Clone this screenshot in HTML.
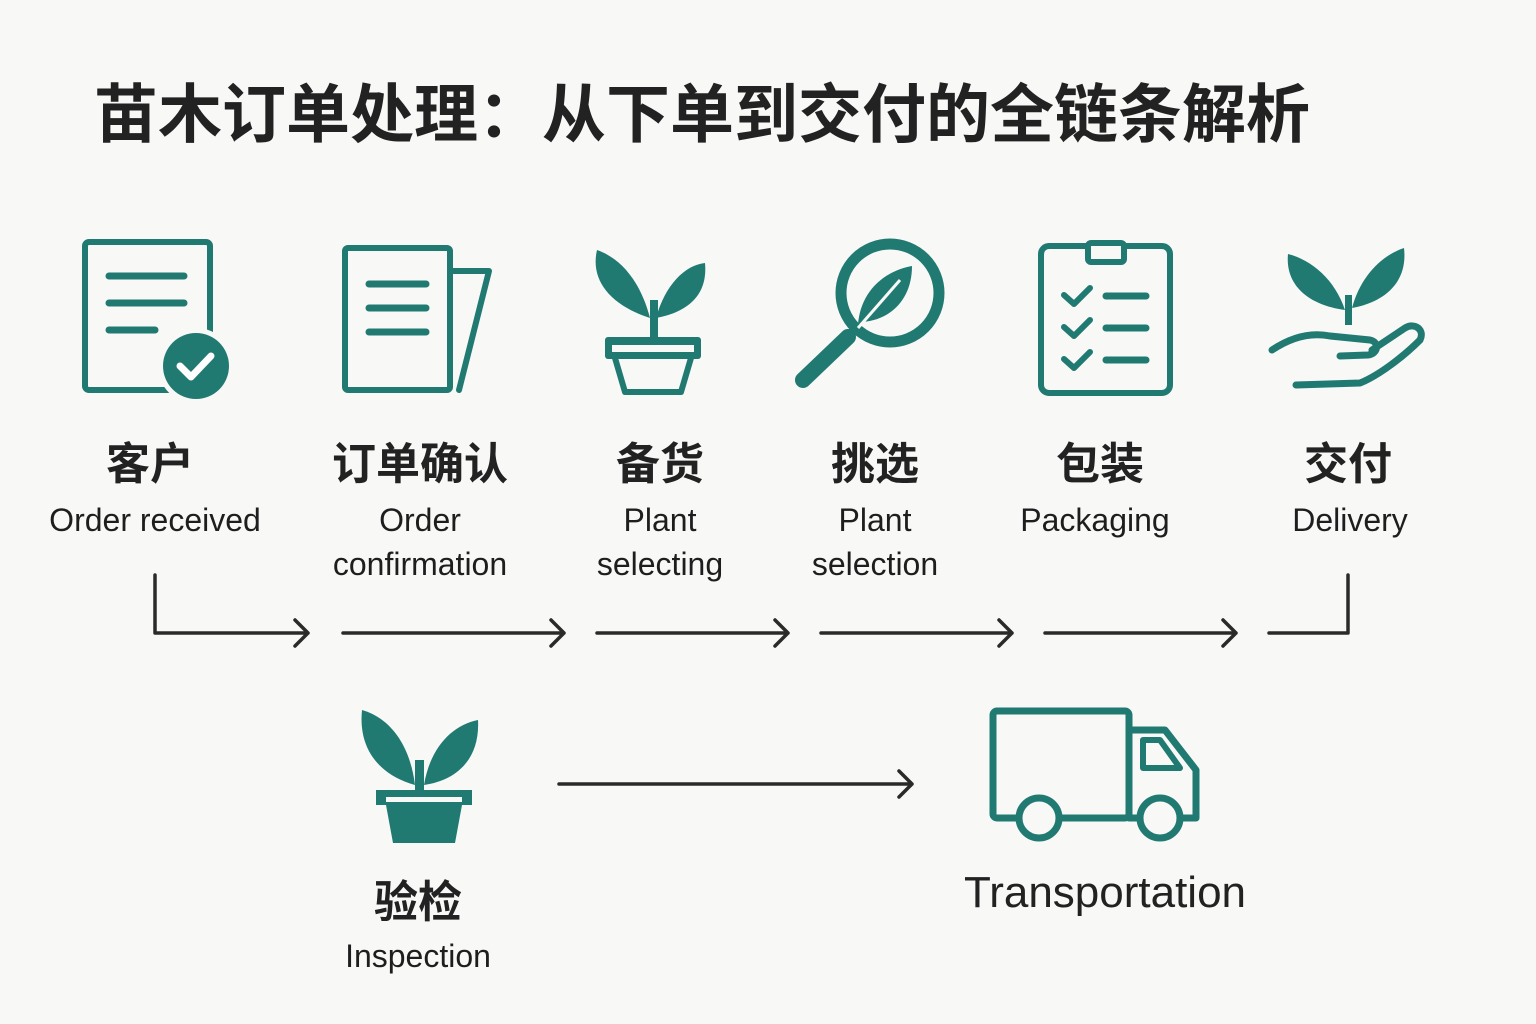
<!DOCTYPE html>
<html><head><meta charset="utf-8"><style>
html,body{margin:0;padding:0;background:#f8f8f6;}
body{width:1536px;height:1024px;position:relative;overflow:hidden;font-family:"Liberation Sans","Noto Sans CJK SC",sans-serif;color:#222;}
.t{position:absolute;white-space:nowrap;text-align:center;}
.zh{font-weight:bold;font-size:44px;}
.en{font-size:32px;line-height:44px;color:#1e1e1e;}
</style></head><body>
<div class="t" style="left:94px;top:64px;font-size:64px;font-weight:bold;color:#222;">苗木订单处理：从下单到交付的全链条解析</div>

<svg width="1536" height="1024" style="position:absolute;left:0;top:0">
<g fill="none" stroke="#217a72" stroke-width="6" stroke-linejoin="round" stroke-linecap="round">
 <rect x="85" y="242" width="125" height="148" rx="4"/>
 <line x1="109" y1="276" x2="184" y2="276" stroke-width="7"/>
 <line x1="109" y1="303" x2="184" y2="303" stroke-width="7"/>
 <line x1="109" y1="330" x2="155" y2="330" stroke-width="7"/>
 <path d="M450 271 L489 271 L459 390"/>
 <rect x="345" y="248" width="105" height="142" rx="3"/>
 <line x1="369" y1="284" x2="426" y2="284" stroke-width="7"/>
 <line x1="369" y1="308" x2="426" y2="308" stroke-width="7"/>
 <line x1="369" y1="332" x2="426" y2="332" stroke-width="7"/>
 <circle cx="890" cy="293" r="49" stroke-width="11"/>
 <line x1="848" y1="337" x2="803" y2="380" stroke-width="16"/>
 <rect x="1041" y="246" width="129" height="147" rx="8"/>
 <rect x="1088" y="243" width="36" height="19" rx="3" fill="#f8f8f6"/>
 <path d="M1064 295l10 9 16-16M1064 327l10 9 16-16M1064 359l10 9 16-16"/>
 <line x1="1106" y1="296" x2="1146" y2="296" stroke-width="7"/>
 <line x1="1106" y1="328" x2="1146" y2="328" stroke-width="7"/>
 <line x1="1106" y1="360" x2="1146" y2="360" stroke-width="7"/>
 <path d="M615 358 L625 392 L681 392 L691 358"/>
 <path d="M1272 350 C1290 338 1310 332 1330 336 L1370 340 C1380 342 1378 354 1368 355 L1340 356" stroke-width="7"/>
 <path d="M1296 385 L1360 383 C1380 375 1405 355 1420 340 C1425 330 1415 322 1405 328 L1372 350" stroke-width="7"/>
 <rect x="993" y="711" width="136" height="107" rx="4" stroke-width="7"/>
 <path d="M1129 730 L1165 730 L1196 770 L1196 818 L1129 818" stroke-width="7"/>
 <path d="M1143 740 L1160 740 L1180 768 L1143 768 Z" stroke-width="6"/>
</g>
<g fill="#217a72">
 <circle cx="196" cy="366" r="38" fill="#f8f8f6"/>
 <circle cx="196" cy="366" r="33"/>
 <path d="M180 366l11 11 20-21" fill="none" stroke="#fff" stroke-width="7" stroke-linecap="round" stroke-linejoin="round"/>
 <path d="M650 318 C640 280 620 258 597 250 C590 280 610 305 650 318Z"/>
 <path d="M656 318 C665 285 685 265 705 263 C708 295 688 312 656 318Z"/>
 <rect x="650" y="300" width="8" height="40"/>
 <rect x="605" y="337" width="96" height="22" rx="3"/>
 <rect x="612" y="345" width="82" height="7" fill="#f8f8f6"/>
 <path d="M858 325 C860 295 880 272 912 266 C912 300 890 320 862 322Z"/>
 <path d="M858 328 L900 280" stroke="#f8f8f6" stroke-width="3"/>
 <path d="M1345 310 C1335 280 1312 260 1288 254 C1285 285 1308 305 1345 310Z"/>
 <path d="M1352 308 C1360 278 1380 256 1404 248 C1408 282 1385 302 1352 308Z"/>
 <rect x="1345" y="295" width="7" height="30"/>
 <path d="M415 785 C410 745 390 718 362 710 C358 750 380 775 415 785Z"/>
 <path d="M424 785 C430 748 452 725 478 720 C480 758 458 780 424 785Z"/>
 <rect x="415" y="760" width="9" height="35"/>
 <path d="M376 790 L472 790 L472 805 L462 805 L455 843 L393 843 L386 805 L376 805Z"/>
 <rect x="386" y="797" width="76" height="5" fill="#f8f8f6"/>
 <circle cx="1039" cy="818" r="20" stroke="#217a72" stroke-width="7" fill="#f8f8f6"/>
 <circle cx="1160" cy="818" r="20" stroke="#217a72" stroke-width="7" fill="#f8f8f6"/>
</g>
<g fill="none" stroke="#2a2a2a" stroke-width="3.5" stroke-linecap="round" stroke-linejoin="round">
 <path d="M155 575 L155 633 L308 633 M295 620 L308 633 L295 646"/>
 <path d="M343 633 L564 633 M551 620 L564 633 L551 646"/>
 <path d="M597 633 L788 633 M775 620 L788 633 L775 646"/>
 <path d="M821 633 L1012 633 M999 620 L1012 633 L999 646"/>
 <path d="M1045 633 L1236 633 M1223 620 L1236 633 L1223 646"/>
 <path d="M1269 633 L1348 633 L1348 575"/>
 <path d="M559 784 L912 784 M899 771 L912 784 L899 797"/>
</g>
</svg>

<div class="t zh" style="left:50px;width:200px;top:428px;">客户</div>
<div class="t en" style="left:30px;width:250px;top:498px;">Order received</div>
<div class="t zh" style="left:300px;width:240px;top:428px;">订单确认</div>
<div class="t en" style="left:300px;width:240px;top:498px;">Order<br>confirmation</div>
<div class="t zh" style="left:560px;width:200px;top:428px;">备货</div>
<div class="t en" style="left:560px;width:200px;top:498px;">Plant<br>selecting</div>
<div class="t zh" style="left:775px;width:200px;top:428px;">挑选</div>
<div class="t en" style="left:775px;width:200px;top:498px;">Plant<br>selection</div>
<div class="t zh" style="left:1000px;width:200px;top:428px;">包装</div>
<div class="t en" style="left:995px;width:200px;top:498px;">Packaging</div>
<div class="t zh" style="left:1248px;width:200px;top:428px;">交付</div>
<div class="t en" style="left:1250px;width:200px;top:498px;">Delivery</div>
<div class="t zh" style="left:318px;width:200px;top:866px;">验检</div>
<div class="t en" style="left:318px;width:200px;top:934px;">Inspection</div>
<div class="t" style="left:935px;width:340px;top:868px;font-size:44px;">Transportation</div>
</body></html>
